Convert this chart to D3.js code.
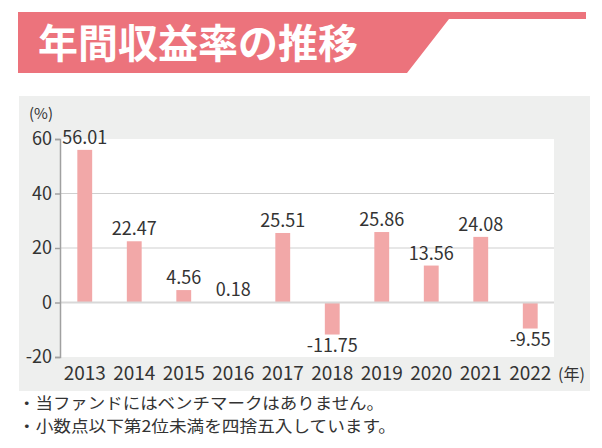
<!DOCTYPE html>
<html lang="ja">
<head>
<meta charset="UTF-8">
<title>年間収益率の推移</title>
<script src="https://d3js.org/d3.v7.min.js"></script>
<style>
  body { margin: 0; background: #fff; }
  text { font-family: "Noto Sans CJK JP", "Noto Sans", sans-serif; }
</style>
</head>
<body>
<svg width="602" height="448"></svg>
<script>
    const years = ['2013', '2014', '2015', '2016', '2017', '2018', '2019', '2020', '2021', '2022'];
    const returns = [56.01, 22.47, 4.56, 0.18, 25.51, -11.75, 25.86, 13.56, 24.08, -9.55];
    const yTicks = [-20, 0, 20, 40, 60];
    const notes = [
        '・当ファンドにはベンチマークはありません。',
        '・小数点以下第2位未満を四捨五入しています。'
    ];
    const noteWidths = [366, 378];

    const svg = d3.select('svg');
    const plot = {left: 60, right: 554, top: 139, bottom: 357};

    // title banner
    svg.append('polygon')
        .attr('points', [[18, 12], [586, 12], [586, 19], [449, 19], [407, 73], [18, 73]].join(' '))
        .attr('fill', '#ec737c');
    svg.append('text')
        .attr('x', 38).attr('y', 58)
        .attr('fill', '#fff')
        .attr('font-size', 40).attr('font-weight', 'bold')
        .text('年間収益率の推移');

    // grey panel + white plot area
    svg.append('rect')
        .attr('x', 19).attr('y', 96).attr('width', 571).attr('height', 295)
        .attr('fill', '#eeefee');
    svg.append('rect')
        .attr('x', plot.left).attr('y', plot.top)
        .attr('width', plot.right - plot.left).attr('height', plot.bottom - plot.top)
        .attr('fill', '#fff');

    const x = d3.scaleBand()
        .domain(years)
        .range([plot.left, plot.left + 495])
        .paddingInner(0.7)
        .paddingOuter(0.35);
    const y = d3.scaleLinear()
        .domain([-20, 60])
        .range([plot.bottom, plot.top]);

    // gridlines
    svg.append('g').selectAll('line')
        .data([20, 40])
        .join('line')
        .attr('x1', plot.left).attr('x2', plot.right)
        .attr('y1', d => y(d)).attr('y2', d => y(d))
        .attr('stroke', '#cfcfcf').attr('stroke-width', 1);

    // bars
    svg.append('g').selectAll('rect')
        .data(returns)
        .join('rect')
        .attr('x', (d, i) => x(years[i]))
        .attr('width', x.bandwidth())
        .attr('y', d => y(Math.max(0, d)))
        .attr('height', d => Math.abs(y(d) - y(0)))
        .attr('fill', '#f2a8a8');

    // zero line
    svg.append('line')
        .attr('x1', plot.left).attr('x2', plot.right)
        .attr('y1', y(0)).attr('y2', y(0))
        .attr('stroke', '#d8d8d8').attr('stroke-width', 2);

    // value labels
    svg.append('g').selectAll('text')
        .data(returns)
        .join('text')
        .attr('x', (d, i) => x(years[i]) + x.bandwidth() / 2)
        .attr('y', d => d >= 0 ? y(d) - 6 : y(d) + 17)
        .attr('text-anchor', 'middle')
        .attr('font-size', 18)
        .attr('fill', '#333')
        .text(d => d.toFixed(2));

    // y axis
    const yAxis = d3.axisLeft(y)
        .tickValues(yTicks)
        .tickFormat(d => String(d))
        .tickSize(5)
        .tickPadding(3);
    const gy = svg.append('g')
        .attr('transform', 'translate(' + [plot.left, 0] + ')')
        .call(yAxis);
    gy.select('.domain').attr('stroke', '#a0a0a0').attr('stroke-width', 1.5);
    gy.selectAll('.tick line').attr('stroke', '#a0a0a0').attr('stroke-width', 1.5);
    gy.selectAll('.tick text')
        .attr('font-size', 18)
        .attr('fill', '#333')
        .attr('font-family', '"Noto Sans CJK JP", sans-serif');

    // x labels
    svg.append('g').selectAll('text')
        .data(years)
        .join('text')
        .attr('x', d => x(d) + x.bandwidth() / 2)
        .attr('y', 380)
        .attr('text-anchor', 'middle')
        .attr('font-size', 19)
        .attr('fill', '#333')
        .text(d => d);

    // units
    svg.append('text')
        .attr('x', 29).attr('y', 119)
        .attr('font-size', 15).attr('fill', '#333')
        .text('(%)');
    svg.append('text')
        .attr('x', 558).attr('y', 380)
        .attr('font-size', 16).attr('fill', '#333')
        .text('(年)');

    // notes
    svg.append('g').selectAll('text')
        .data(notes)
        .join('text')
        .attr('x', 18)
        .attr('y', (d, i) => 409 + i * 23)
        .attr('font-size', 16)
        .attr('textLength', (d, i) => noteWidths[i])
        .attr('lengthAdjust', 'spacingAndGlyphs')
        .attr('fill', '#333')
        .text(d => d);
</script>
</body>
</html>
